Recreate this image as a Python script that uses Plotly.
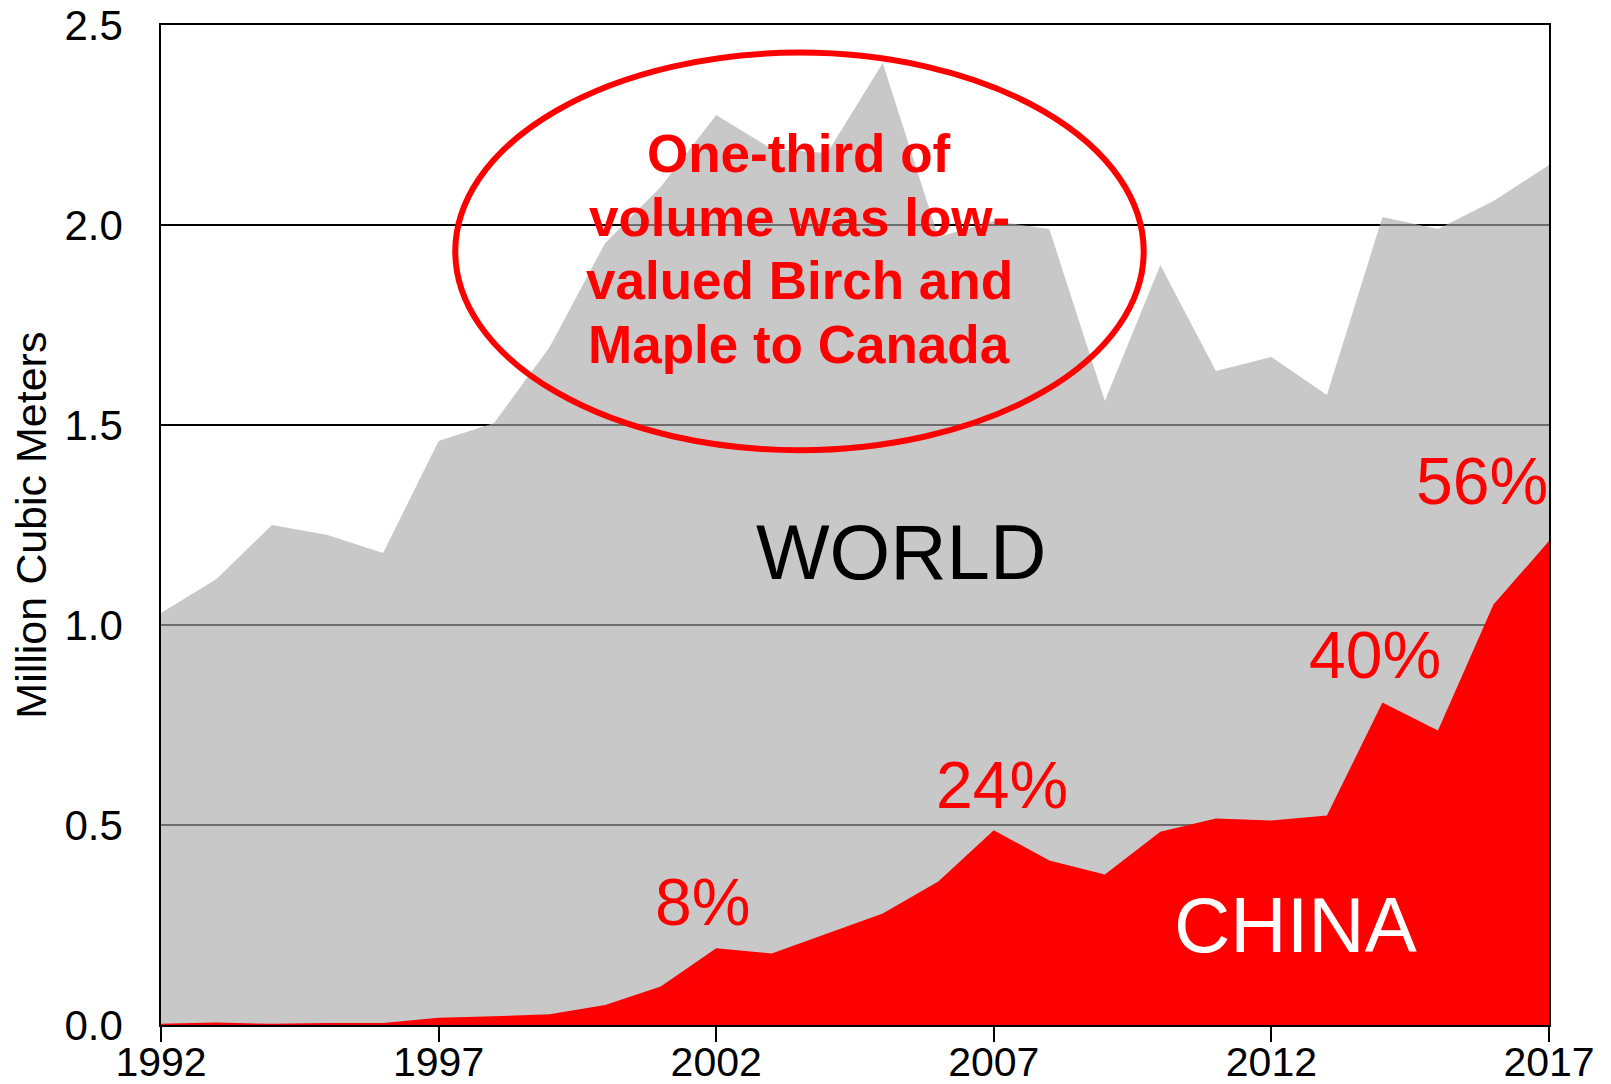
import plotly.graph_objects as go

# Hardwood log exports, million cubic meters
years = list(range(1992, 2018))
world = [1.03, 1.115, 1.25, 1.225, 1.18, 1.46, 1.505, 1.695, 1.955, 2.095,
         2.275, 2.19, 2.18, 2.405, 1.97, 2.01, 1.99, 1.56, 1.90, 1.635,
         1.67, 1.575, 2.02, 1.99, 2.06, 2.15]
china = [0.003, 0.006, 0.003, 0.005, 0.005, 0.018, 0.022, 0.027, 0.05, 0.096,
         0.192, 0.179, 0.229, 0.279, 0.359, 0.487, 0.411, 0.376, 0.483, 0.516,
         0.511, 0.524, 0.806, 0.736, 1.051, 1.21]

# Years whose China share is called out
share_years = [2002, 2007, 2014, 2017]

x_ticks = [1992, 1997, 2002, 2007, 2012, 2017]
y_ticks = [0.0, 0.5, 1.0, 1.5, 2.0, 2.5]
y_tick_text = ["0.0", "0.5", "1.0", "1.5", "2.0", "2.5"]

callout_lines = ["One-third of", "volume was low-", "valued Birch and", "Maple to Canada"]

FONT = "Arial, 'Liberation Sans', sans-serif"
RED = "#ff0000"

fig = go.Figure()
fig.add_trace(go.Scatter(
    x=years, y=world, mode="none", fill="tozeroy",
    fillcolor="rgba(170,170,170,0.647)", hoverinfo="skip", name="World",
))
fig.add_trace(go.Scatter(
    x=years, y=china, mode="none", fill="tozeroy",
    fillcolor=RED, hoverinfo="skip", name="China",
))

annotations = []

# Share labels: China as a percent of world volume
share_pos = {2002: (2001.76, 0.308), 2007: (2007.14, 0.601),
             2014: (2013.87, 0.925), 2017: (2015.80, 1.36)}
for yr in share_years:
    i = years.index(yr)
    pct = round(china[i] / world[i] * 100)
    px, py = share_pos[yr]
    annotations.append(dict(
        x=px, y=py, xref="x", yref="y", text=f"{pct}%", showarrow=False,
        font=dict(family=FONT, size=66, color=RED),
        xanchor="center", yanchor="middle",
    ))

annotations.append(dict(
    x=2005.33, y=1.183, xref="x", yref="y", text="WORLD", showarrow=False,
    font=dict(family=FONT, size=78, color="black"),
    xanchor="center", yanchor="middle",
))
annotations.append(dict(
    x=2012.44, y=0.25, xref="x", yref="y", text="CHINA", showarrow=False,
    font=dict(family=FONT, size=78, color="white"),
    xanchor="center", yanchor="middle",
))

# Bold callout inside the ellipse, one line per annotation
callout_y = [2.180, 2.020, 1.861, 1.701]
for line, cy in zip(callout_lines, callout_y):
    annotations.append(dict(
        x=2003.5, y=cy, xref="x", yref="y", text=f"<b>{line}</b>", showarrow=False,
        font=dict(family=FONT, size=53, color=RED),
        xanchor="center", yanchor="middle",
    ))

# Axis title
annotations.append(dict(
    x=-0.0939, y=0.5, xref="paper", yref="paper", text="Million Cubic Meters",
    showarrow=False, textangle=-90,
    font=dict(family=FONT, size=43, color="black"),
    xanchor="center", yanchor="middle",
))

fig.update_layout(
    width=1611, height=1084,
    margin=dict(l=161, r=62, t=25, b=59),
    paper_bgcolor="white", plot_bgcolor="white",
    showlegend=False,
    annotations=annotations,
    shapes=[dict(
        type="circle", xref="x", yref="y",
        x0=1997.30, x1=2009.70, y0=1.437, y1=2.431,
        line=dict(color=RED, width=6), fillcolor="rgba(0,0,0,0)", layer="above",
    )],
)

fig.update_xaxes(
    range=[1992, 2017], tickvals=x_ticks, ticktext=[str(t) for t in x_ticks],
    ticks="outside", ticklen=15, tickwidth=1.5, tickcolor="black",
    showline=True, linecolor="black", linewidth=2, mirror=True,
    showgrid=False, zeroline=False, automargin=False,
    tickfont=dict(family=FONT, size=41, color="black"),
    ticklabelstandoff=-15,
    layer="above traces",
)
fig.update_yaxes(
    range=[0, 2.5], tickvals=y_ticks, ticktext=y_tick_text,
    ticks="", showline=True, linecolor="black", linewidth=1.5, mirror=True,
    showgrid=True, gridcolor="black", gridwidth=1.6, zeroline=False,
    automargin=False,
    tickfont=dict(family=FONT, size=42, color="black"),
    ticklabelstandoff=28,
    layer="below traces",
)

fig.write_html("out.html")
